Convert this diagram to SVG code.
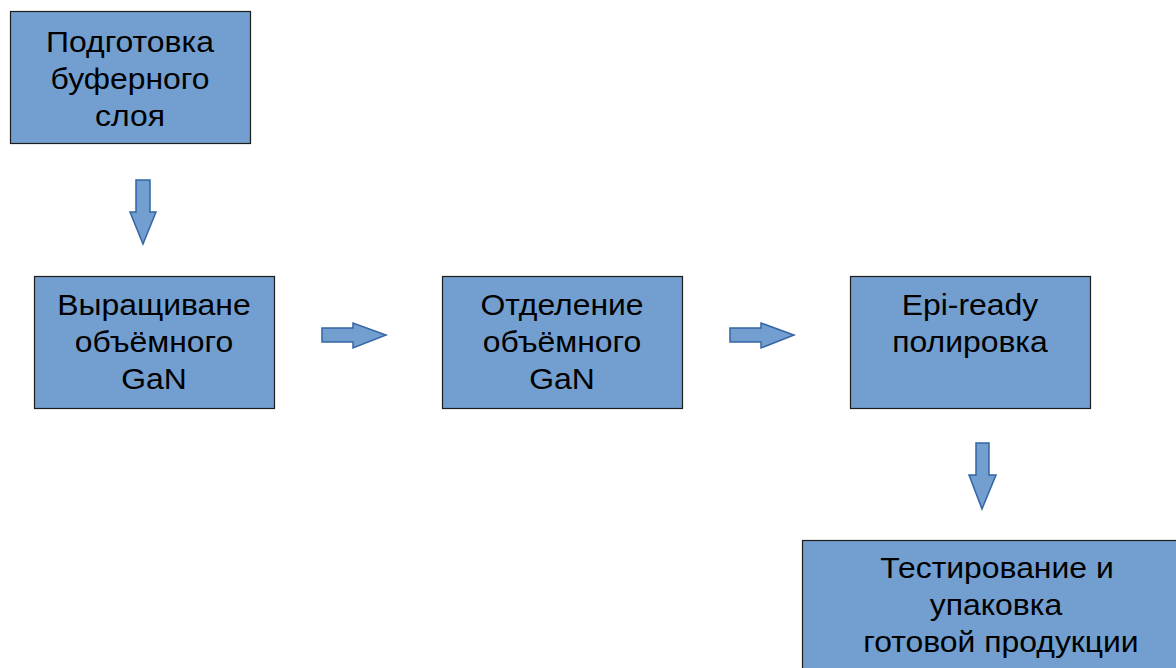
<svg xmlns="http://www.w3.org/2000/svg" width="1176" height="668" viewBox="0 0 1176 668">
<style>
.box{fill:#729fcf;stroke:#1c1c1c;stroke-width:1.2}
.t{font-family:"Liberation Sans",Arial,sans-serif;font-size:29px;fill:#000;text-anchor:middle}
.arr{fill:#729fcf;stroke:#3465a4;stroke-width:1.5;stroke-linejoin:miter}
</style>
<rect width="1176" height="668" fill="#fff"/>
<g id="connectors">
<path class="arr" d="M136,180 H150 V212 H156 L143,244 L130,212 H136 Z"/>
<path class="arr" d="M322,328 H353 V323 L386,335 L353,348 V342 H322 Z"/>
<path class="arr" d="M730,328 H761 V323 L794,335 L761,348 V342 H730 Z"/>
<path class="arr" d="M976,443 H989 V475 H996 L982,509 L969,475 H976 Z"/>
</g>
<g id="n1">
<rect class="box" x="10.5" y="11.5" width="240" height="132"/>
<text class="t" transform="translate(130,52) scale(1.1,1)">Подготовка</text>
<text class="t" transform="translate(130,89) scale(1.1,1)">буферного</text>
<text class="t" transform="translate(130,126) scale(1.1,1)">слоя</text>
</g>
<g id="n2">
<rect class="box" x="34.5" y="276.5" width="240" height="132"/>
<text class="t" transform="translate(154,315) scale(1.1,1)">Выращиване</text>
<text class="t" transform="translate(154,352) scale(1.1,1)">объёмного</text>
<text class="t" transform="translate(154,389) scale(1.1,1)">GaN</text>
</g>
<g id="n3">
<rect class="box" x="442.5" y="276.5" width="240" height="132"/>
<text class="t" transform="translate(562,315) scale(1.1,1)">Отделение</text>
<text class="t" transform="translate(562,352) scale(1.1,1)">объёмного</text>
<text class="t" transform="translate(562,389) scale(1.1,1)">GaN</text>
</g>
<g id="n4">
<rect class="box" x="850.5" y="276.5" width="240" height="132"/>
<text class="t" transform="translate(970,315) scale(1.1,1)">Epi-ready</text>
<text class="t" transform="translate(970,352) scale(1.1,1)">полировка</text>
</g>
<g id="n5">
<rect class="box" x="802.5" y="540.5" width="390" height="140"/>
<text class="t" transform="translate(997,578) scale(1.1,1)">Тестирование и</text>
<text class="t" transform="translate(996,615) scale(1.1,1)">упаковка</text>
<text class="t" transform="translate(1001,652) scale(1.1,1)">готовой продукции</text>
</g>
</svg>
